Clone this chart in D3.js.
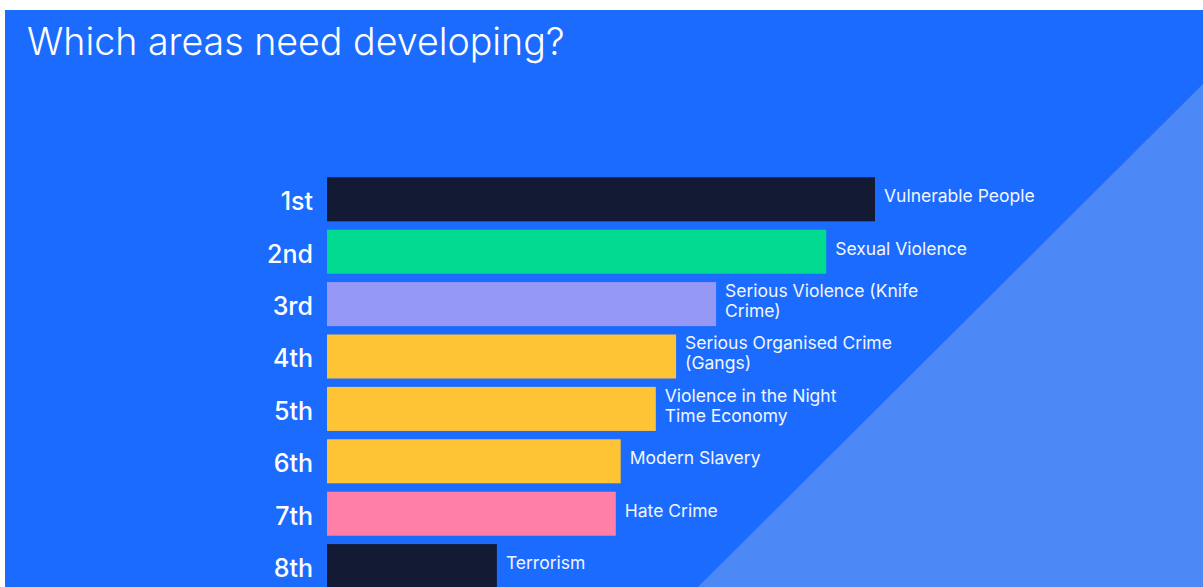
<!DOCTYPE html>
<html>
<head>
<meta charset="utf-8">
<script src="https://cdn.jsdelivr.net/npm/d3@7"></script>
<style>
  html, body { margin: 0; padding: 0; background: #ffffff; }
  svg { display: block; }
</style>
</head>
<body>
<svg id="chart" width="1203" height="587"></svg>
<script>
// Priority ranking of areas that need developing
const ranks = ["1st", "2nd", "3rd", "4th", "5th", "6th", "7th", "8th"];
const categories = [
  "Vulnerable People",
  "Sexual Violence",
  "Serious Violence (Knife\nCrime)",
  "Serious Organised Crime\n(Gangs)",
  "Violence in the Night\nTime Economy",
  "Modern Slavery",
  "Hate Crime",
  "Terrorism"
];
const scores = [100, 91.1, 71, 63.7, 60, 53.6, 52.7, 31];
const barColors = ["#131a33", "#00db91", "#9598f5", "#ffc436", "#ffc436", "#ffc436", "#ff7fa8", "#131a33"];

const W = 1203, H = 587;
const FONT = "Inter, 'Open Sans', sans-serif";
const svg = d3.select("#chart");

// panel background with lighter diagonal wedge
svg.append("rect").attr("x", 5).attr("y", 10).attr("width", W - 5).attr("height", H - 10).attr("fill", "#1b6bff");
svg.append("path")
  .attr("d", `M698,${H} L${W},84 L${W},${H} Z`)
  .attr("fill", "#4c89f6");

svg.append("text")
  .attr("x", 27).attr("y", 55)
  .attr("fill", "#ffffff")
  .attr("font-family", FONT)
  .attr("font-weight", 300)
  .attr("font-size", 37.6)
  .text("Which areas need developing?");

const x = d3.scaleLinear().domain([0, 100]).range([327, 875]);
const y = d3.scaleBand().domain(ranks).range([168.9, 596.5]).padding(0.16);

const rows = svg.append("g").selectAll("g")
  .data(ranks.map((r, i) => ({ rank: r, cat: categories[i], v: scores[i], c: barColors[i] })))
  .join("g");

rows.append("rect")
  .attr("x", x(0))
  .attr("y", d => y(d.rank))
  .attr("width", d => x(d.v) - x(0))
  .attr("height", y.bandwidth())
  .attr("fill", d => d.c);

// rank labels on the left
rows.append("text")
  .attr("x", 313)
  .attr("y", d => y(d.rank) + y.bandwidth() / 2 + 11)
  .attr("text-anchor", "end")
  .attr("fill", "#ffffff")
  .attr("font-family", FONT)
  .attr("font-weight", 500)
  .attr("font-size", 25)
  .text(d => d.rank);

// category labels at bar ends
rows.each(function (d) {
  const lines = d.cat.split("\n");
  const cy = y(d.rank) + y.bandwidth() / 2;
  const t = d3.select(this).append("text")
    .attr("x", x(d.v) + 9)
    .attr("fill", "#f2f6ff")
    .attr("font-family", FONT)
    .attr("font-weight", 400)
    .attr("font-size", 17.5);
  lines.forEach((ln, k) => {
    t.append("tspan")
      .attr("x", x(d.v) + 9)
      .attr("y", cy + 3 - (lines.length - 1) * 10 + k * 20)
      .text(ln);
  });
});
</script>
</body>
</html>
